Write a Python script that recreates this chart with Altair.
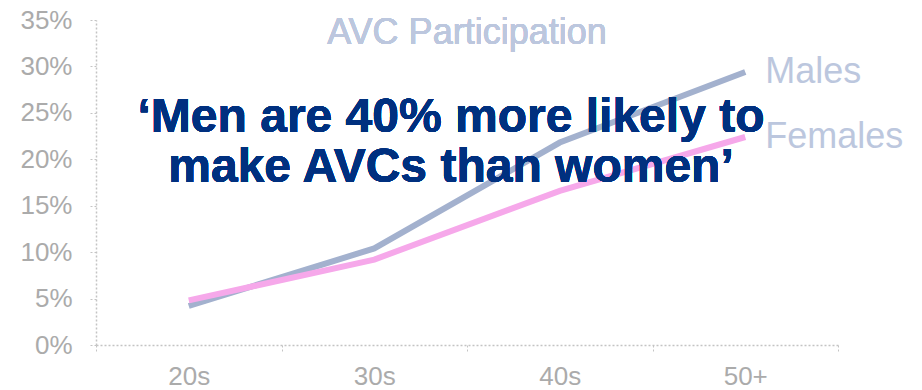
import altair as alt
import pandas as pd

# AVC participation rate by age band
age_bands = ["20s", "30s", "40s", "50+"]
males = [0.042, 0.104, 0.218, 0.294]
females = [0.048, 0.092, 0.166, 0.224]

rows = []
for band, m, f in zip(age_bands, males, females):
    rows.append({"age": band, "sex": "Males", "rate": m})
    rows.append({"age": band, "sex": "Females", "rate": f})
df = pd.DataFrame(rows)
end_labels = df[df["age"] == age_bands[-1]]

FONT = "Liberation Sans"
PLOT_W, PLOT_H = 742, 325

x_enc = alt.X(
    "age:N",
    sort=age_bands,
    scale=alt.Scale(paddingInner=0, paddingOuter=0),
    axis=alt.Axis(
        title=None,
        labelAngle=0,
        labelFontSize=26,
        labelColor="#ababab",
        labelPadding=10,
        tickBand="extent",
        tickSize=8,
        tickColor="#c4c4c4",
        tickDash=[2, 2],
        domainColor="#c4c4c4",
        domainDash=[2, 2],
        domainWidth=1.5,
    ),
)
y_enc = alt.Y(
    "rate:Q",
    scale=alt.Scale(domain=[0, 0.35], nice=False),
    axis=alt.Axis(
        title=None,
        values=[0, 0.05, 0.10, 0.15, 0.20, 0.25, 0.30, 0.35],
        format=".0%",
        labelFontSize=26,
        labelColor="#ababab",
        labelPadding=16,
        tickSize=8,
        tickColor="#c4c4c4",
        tickDash=[2, 2],
        domainColor="#c4c4c4",
        domainDash=[2, 2],
        domainWidth=1.5,
        grid=False,
    ),
)
color_enc = alt.Color(
    "sex:N",
    scale=alt.Scale(domain=["Males", "Females"], range=["#a3b1ce", "#f6a8ea"]),
    legend=None,
)

lines = alt.Chart(df).mark_line(strokeWidth=6, strokeCap="butt").encode(
    x=x_enc, y=y_enc, color=color_enc, detail="sex:N"
)

series_labels = alt.Chart(end_labels).mark_text(
    align="left", baseline="middle", dx=20, fontSize=36, font=FONT, color="#bcc7de"
).encode(
    x=alt.X("age:N", sort=age_bands),
    y="rate:Q",
    text="sex:N",
)

title_text = alt.Chart(df).mark_text(
    align="center", baseline="alphabetic", fontSize=36, font=FONT, color="#bcc7de"
).encode(
    x=alt.value(PLOT_W / 2),
    y=alt.value(24),
    text=alt.value("AVC Participation"),
)

quote = alt.Chart(df).mark_text(
    align="center",
    baseline="alphabetic",
    fontSize=48,
    fontWeight="bold",
    font=FONT,
    color="#00307f",
    lineBreak="\n",
    lineHeight=50,
).encode(
    x=alt.value(355),
    y=alt.value(112),
    text=alt.value("\u2018Men are 40% more likely to\nmake AVCs than women\u2019"),
)

chart = (
    alt.layer(lines, series_labels, title_text, quote)
    .properties(
        width=PLOT_W,
        height=PLOT_H,
        autosize=alt.AutoSizeParams(type="none"),
        padding={"left": 96, "top": 20, "right": 84, "bottom": 45},
    )
    .configure_view(stroke=None)
    .configure_axis(labelFont=FONT)
)

chart.save("out.html", embed_options={"renderer": "svg", "actions": False})
